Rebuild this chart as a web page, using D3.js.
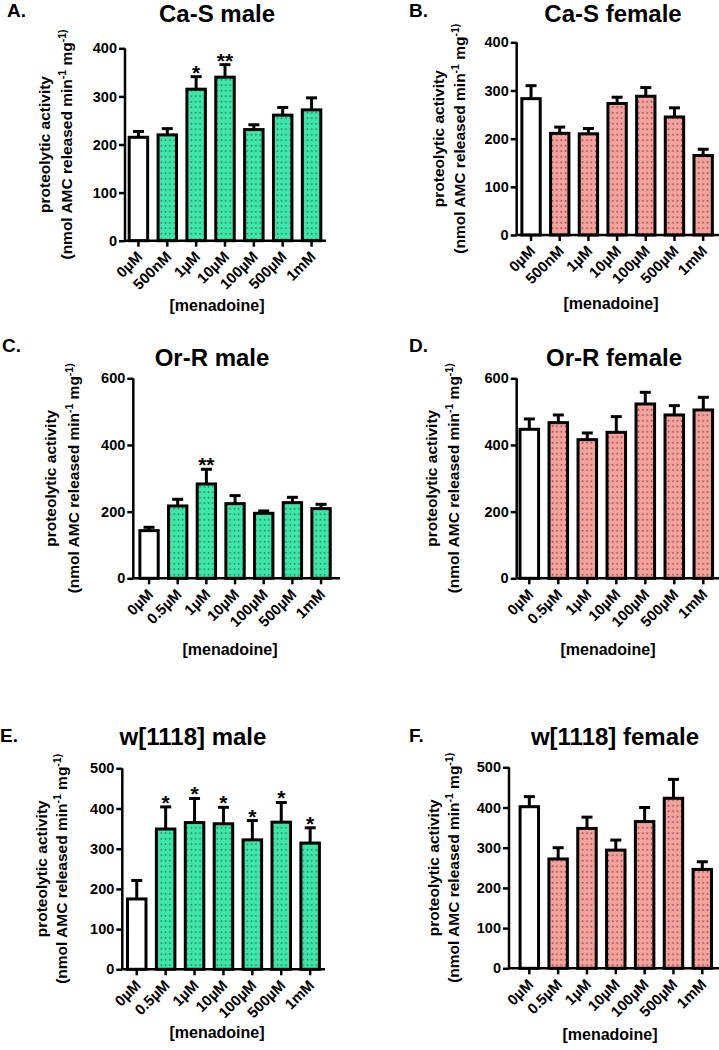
<!DOCTYPE html>
<html><head><meta charset="utf-8">
<script src="https://cdn.jsdelivr.net/npm/d3@7"></script>
<style>
html,body{margin:0;padding:0;background:#fff;}
svg{display:block;font-family:"Liberation Sans",Arial,sans-serif;font-weight:bold;}
</style></head><body>
<svg id="c" width="719" height="1050"></svg>
<script>
// ---- data ----
const catsAB = ["0\u00b5M","500nM","1\u00b5M","10\u00b5M","100\u00b5M","500\u00b5M","1mM"];
const catsCF = ["0\u00b5M","0.5\u00b5M","1\u00b5M","10\u00b5M","100\u00b5M","500\u00b5M","1mM"];

const meanA = [215, 220, 315, 340, 231, 261, 272];
const semA  = [12, 13, 26, 26, 10, 16, 25];
const starsA = ["", "", "*", "**", "", "", ""];

const meanB = [283, 211, 210, 273, 288, 245, 165];
const semB  = [27, 13, 11, 13, 18, 19, 13];

const meanC = [143, 217, 283, 224, 195, 227, 209];
const semC  = [10, 20, 44, 24, 7, 16, 13];
const starsC = ["", "", "**", "", "", "", ""];

const meanD = [447, 467, 416, 438, 523, 490, 505];
const semD  = [31, 23, 20, 47, 35, 28, 38];

const meanE = [175, 349, 365, 362, 322, 366, 314];
const semE  = [46, 55, 60, 41, 48, 49, 38];
const starsE = ["", "*", "*", "*", "*", "*", "*"];

const meanF = [402, 272, 348, 294, 365, 423, 246];
const semF  = [25, 28, 28, 25, 35, 47, 19];

const ticks400 = [0, 100, 200, 300, 400];
const ticks600 = [0, 200, 400, 600];
const ticks500 = [0, 100, 200, 300, 400, 500];

const titles = ["Ca-S male", "Ca-S female", "Or-R male", "Or-R female", "w[1118] male", "w[1118] female"];
const letters = ["A.", "B.", "C.", "D.", "E.", "F."];
const xTitle = "[menadoine]";

// ---- layout ----
const panels = [
  {cats:catsAB, mean:meanA, sem:semA, stars:starsA, ticks:ticks400, max:400, sex:"m",
   ax:125, x0:124, x1:326, xEnd:326, top:48.3, bot:240.7,
   letter:[7,17], title:[217,22], xl:[217,311], yl:[50,72]},
  {cats:catsAB, mean:meanB, sem:semB, stars:null, ticks:ticks400, max:400, sex:"f",
   ax:516.7, x0:516.7, x1:717.5, xEnd:719, top:42.3, bot:235,
   letter:[409,17], title:[613,22], xl:[611,309], yl:[444,465]},
  {cats:catsCF, mean:meanC, sem:semC, stars:starsC, ticks:ticks600, max:600, sex:"m",
   ax:133.3, x0:134.7, x1:335.4, xEnd:340, top:378.3, bot:578.3,
   letter:[2,352], title:[212,366], xl:[230,655], yl:[56,79]},
  {cats:catsCF, mean:meanD, sem:semD, stars:null, ticks:ticks600, max:600, sex:"f",
   ax:516.7, x0:514.8, x1:717.8, xEnd:719, top:378.3, bot:578.3,
   letter:[409,352], title:[614,366], xl:[608,655], yl:[437,459]},
  {cats:catsCF, mean:meanE, sem:semE, stars:starsE, ticks:ticks500, max:500, sex:"m",
   ax:122.3, x0:122.3, x1:324.6, xEnd:325, top:768.3, bot:969.3,
   letter:[0,742], title:[193,745], xl:[217,1038], yl:[47,67]},
  {cats:catsCF, mean:meanF, sem:semF, stars:null, ticks:ticks500, max:500, sex:"f",
   ax:509, x0:514.9, x1:716.7, xEnd:719, top:767.3, bot:968.3,
   letter:[409,742], title:[615,745], xl:[610,1040], yl:[439,459]}
];

const FONT = '"Liberation Sans",Arial,sans-serif';
const svg = d3.select("#c");
const defs = svg.append("defs");
function mkPat(id, bg, dot){
  const p = defs.append("pattern").attr("id", id).attr("patternUnits","userSpaceOnUse")
    .attr("width", 4.3).attr("height", 5.5);
  p.append("rect").attr("width", 4.3).attr("height", 5.5).attr("fill", bg);
  p.append("rect").attr("x", 1.5).attr("y", 2).attr("width", 1.4).attr("height", 1.4).attr("fill", dot);
}
mkPat("pm", "#3fe6aa", "#1d6b50");
mkPat("pf", "#f5a19c", "#6e3a38");

panels.forEach((P, pi) => {
  const g = svg.append("g");
  const x = d3.scaleBand().domain(P.cats).range([P.x0, P.x1]).paddingInner(0.36).paddingOuter(0.18);
  const y = d3.scaleLinear().domain([0, P.max]).range([P.bot, P.top]);

  const bw = x.bandwidth();
  P.cats.forEach((c, i) => {
    const cx = x(c) + bw/2;
    const yt = y(P.mean[i]);
    const ye = y(P.mean[i] + P.sem[i]);
    g.append("line").attr("x1", cx).attr("x2", cx).attr("y1", yt).attr("y2", ye)
      .attr("stroke", "#000").attr("stroke-width", 3);
    g.append("line").attr("x1", cx - 5.5).attr("x2", cx + 5.5).attr("y1", ye).attr("y2", ye)
      .attr("stroke", "#000").attr("stroke-width", 3);
    g.append("rect").attr("x", x(c)).attr("width", bw).attr("y", yt).attr("height", P.bot - yt)
      .attr("fill", i === 0 ? "#fff" : (P.sex === "m" ? "url(#pm)" : "url(#pf)"))
      .attr("stroke", "#000").attr("stroke-width", 3);
    if (P.stars && P.stars[i]) {
      g.append("text").attr("x", cx).attr("y", ye + 3).attr("text-anchor", "middle")
        .attr("font-size", 21).text(P.stars[i]);
    }
  });

  // y axis
  const yAxis = d3.axisLeft(y).tickValues(P.ticks).tickSize(6).tickPadding(2).tickFormat(d3.format("d"));
  const ya = g.append("g").attr("transform", `translate(${P.ax},0)`).call(yAxis);
  ya.select(".domain").attr("stroke-width", 2.5).attr("d", `M0,${P.top}V${P.bot}`);
  ya.selectAll(".tick line").attr("stroke-width", 2.5);
  ya.selectAll(".tick text").attr("font-size", 14.5).attr("font-weight", "bold")
    .attr("font-family", FONT).attr("fill", "#000");

  // x axis
  const xAxis = d3.axisBottom(x).tickSize(6).tickSizeOuter(0).tickPadding(4);
  const xa = g.append("g").attr("transform", `translate(0,${P.bot})`).call(xAxis);
  xa.select(".domain").attr("stroke-width", 2.5).attr("d", `M${P.ax},0H${P.xEnd}`);
  xa.selectAll(".tick line").attr("stroke-width", 2.5);
  xa.selectAll(".tick text").attr("font-size", 15).attr("font-weight", "bold")
    .attr("font-family", FONT).attr("fill", "#000")
    .attr("text-anchor", "end").attr("dy", 0)
    .attr("transform", "translate(5,17) rotate(-45)").attr("y", 0).attr("x", 0);

  // titles
  g.append("text").attr("x", P.letter[0]).attr("y", P.letter[1]).attr("font-size", 19).text(letters[pi]);
  g.append("text").attr("x", P.title[0]).attr("y", P.title[1]).attr("text-anchor", "middle")
    .attr("font-size", 24).text(titles[pi]);
  g.append("text").attr("x", P.xl[0]).attr("y", P.xl[1]).attr("text-anchor", "middle")
    .attr("font-size", 16).text(xTitle);

  // y label
  const cy = (P.top + P.bot) / 2;
  g.append("text").attr("transform", `translate(${P.yl[0]},${cy}) rotate(-90)`)
    .attr("text-anchor", "middle").attr("font-size", 15.5).text("proteolytic activity");
  const t2 = g.append("text").attr("transform", `translate(${P.yl[1]},${cy}) rotate(-90)`)
    .attr("text-anchor", "middle").attr("font-size", 15.5);
  t2.append("tspan").text("(nmol AMC released min");
  t2.append("tspan").attr("font-size", 10.5).attr("dy", -6).text("-1");
  t2.append("tspan").attr("dy", 6).text(" mg");
  t2.append("tspan").attr("font-size", 10.5).attr("dy", -6).text("-1)");
});
</script>
</body></html>
